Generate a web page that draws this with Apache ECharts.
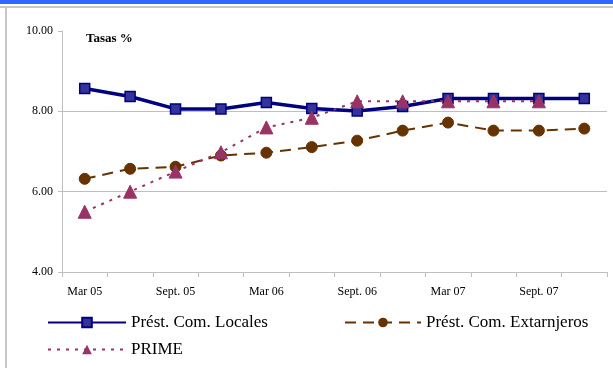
<!DOCTYPE html>
<html>
<head>
<meta charset="utf-8">
<script src="https://cdn.jsdelivr.net/npm/echarts@6/dist/echarts.min.js"></script>
<style>
  html, body { margin: 0; padding: 0; background: #ffffff; }
  #chart { width: 613px; height: 368px; }
</style>
</head>
<body>
<div id="chart"></div>
<script>
// Quarterly periods, March 2005 to December 2007
const categories = ['Mar 05', 'Jun. 05', 'Sept. 05', 'Dic. 05', 'Mar 06', 'Jun. 06',
                    'Sept. 06', 'Dic. 06', 'Mar 07', 'Jun. 07', 'Sept. 07', 'Dic. 07'];

// Interest rates (%)
const locales      = [8.57, 8.37, 8.06, 8.06, 8.22, 8.07, 8.01, 8.12, 8.32, 8.32, 8.32, 8.32];
const extranjeros  = [6.32, 6.57, 6.62, 6.90, 6.97, 7.11, 7.27, 7.52, 7.72, 7.52, 7.52, 7.57];
const prime        = [5.50, 6.00, 6.50, 6.98, 7.60, 7.84, 8.25, 8.25, 8.25, 8.25, 8.25, null];

const yTicks = { min: 4, max: 10, step: 2 };

const serif = '"Liberation Serif", "DejaVu Serif", serif';

const chart = echarts.init(document.getElementById('chart'), null, { renderer: 'canvas' });

const legendText = { fontFamily: serif, fontSize: 17, color: '#000000' };

chart.setOption({
  backgroundColor: '#ffffff',
  animation: false,
  title: {
    text: 'Tasas %',
    left: 81,
    top: 27,
    textStyle: { fontFamily: serif, fontSize: 13, fontWeight: 'bold', color: '#000000' }
  },
  graphic: [
    { type: 'rect', left: 0, top: 0, shape: { width: 613, height: 4 }, style: { fill: '#3366ff' } },
    { type: 'rect', left: 0, top: 6, shape: { width: 613, height: 2 }, style: { fill: '#c8c8c8' } },
    { type: 'rect', left: 5, top: 6, shape: { width: 2, height: 362 }, style: { fill: '#c8c8c8' } }
  ],
  grid: { left: 62, right: 6, top: 31, bottom: 96, containLabel: false },
  legend: [
    { data: ['Prést. Com. Locales'], left: 47, top: 314, padding: 0, itemWidth: 78, itemHeight: 12,
      itemGap: 2, textStyle: legendText },
    { data: ['Prést. Com. Extarnjeros'], left: 344, top: 314, padding: 0, itemWidth: 76, itemHeight: 12,
      itemGap: 2, textStyle: legendText },
    { data: ['PRIME'], left: 47, top: 341, padding: 0, itemWidth: 78, itemHeight: 12,
      itemGap: 2, textStyle: legendText }
  ],
  xAxis: {
    type: 'category',
    data: categories,
    boundaryGap: true,
    axisLine: { lineStyle: { color: '#bfbfbf', width: 1 } },
    axisTick: { show: true, interval: 0, length: 5, lineStyle: { color: '#bfbfbf' } },
    axisLabel: { interval: 1, margin: 14, fontFamily: serif, fontSize: 12, color: '#000000' },
    splitLine: { show: false }
  },
  yAxis: {
    type: 'value',
    min: yTicks.min,
    max: yTicks.max,
    interval: yTicks.step,
    axisLine: { show: true, lineStyle: { color: '#bfbfbf', width: 1 } },
    axisTick: { show: true, length: 4, lineStyle: { color: '#bfbfbf' } },
    axisLabel: { margin: 9, fontFamily: serif, fontSize: 12, color: '#000000',
                 formatter: v => v.toFixed(2) },
    splitLine: { show: true, showMinLine: false, showMaxLine: false,
                 lineStyle: { color: '#bfbfbf', width: 1 } }
  },
  series: [
    {
      name: 'Prést. Com. Locales',
      type: 'line',
      data: locales,
      symbol: 'rect',
      symbolSize: 10,
      lineStyle: { color: '#000080', width: 3.5 },
      itemStyle: { color: '#333399', borderColor: '#000080', borderWidth: 1.5 },
      z: 2
    },
    {
      name: 'Prést. Com. Extarnjeros',
      type: 'line',
      data: extranjeros,
      symbol: 'circle',
      symbolSize: 11,
      lineStyle: { color: '#663300', width: 2, type: [11, 7] },
      itemStyle: { color: '#663300', borderColor: '#663300' },
      z: 3
    },
    {
      name: 'PRIME',
      type: 'line',
      data: prime,
      symbol: 'triangle',
      symbolSize: 13,
      lineStyle: { color: '#993366', width: 2, type: [3, 6] },
      itemStyle: { color: '#993366', borderColor: '#993366' },
      z: 4
    }
  ]
});
</script>
</body>
</html>
